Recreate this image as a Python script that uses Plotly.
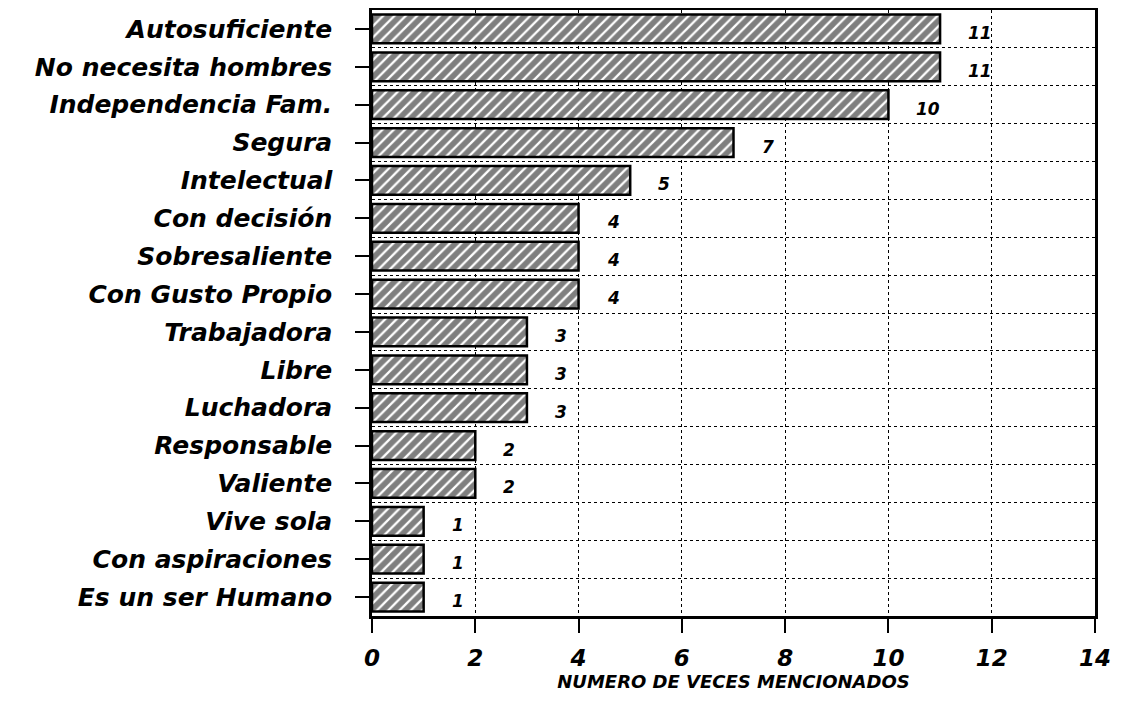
import plotly.graph_objects as go

categories = ["Autosuficiente", "No necesita hombres", "Independencia Fam.", "Segura",
              "Intelectual", "Con decisión", "Sobresaliente", "Con Gusto Propio",
              "Trabajadora", "Libre", "Luchadora", "Responsable", "Valiente",
              "Vive sola", "Con aspiraciones", "Es un ser Humano"]
values = [11, 11, 10, 7, 5, 4, 4, 4, 3, 3, 3, 2, 2, 1, 1, 1]
x_ticks = [0, 2, 4, 6, 8, 10, 12, 14]
x_title = "NUMERO DE VECES MENCIONADOS"

font_family = "DejaVu Sans, Liberation Sans, sans-serif"
pos = list(range(len(categories)))

fig = go.Figure()
fig.add_trace(go.Bar(
    x=values, y=pos, orientation="h", width=0.76,
    marker=dict(color="white",
                line=dict(color="black", width=2.5),
                pattern=dict(shape="/", fgcolor="black", bgcolor="white",
                             size=8, solidity=0.72)),
    hoverinfo="x+y", showlegend=False,
))

for p, v in zip(pos, values):
    fig.add_annotation(x=v, y=p, text=str(v), showarrow=False, xanchor="left",
                       xshift=26, yshift=-4,
                       font=dict(family=font_family, size=17, color="black",
                                 weight="bold", style="italic"))

# page body has an 8px margin: figure is sized/offset to compensate
fig.update_layout(
    width=1111, height=685,
    margin=dict(l=364, r=24, t=2, b=77),
    paper_bgcolor="white", plot_bgcolor="white",
    font=dict(family=font_family, color="black"),
    xaxis=dict(range=[0, 14], tickvals=x_ticks, ticktext=[str(t) for t in x_ticks],
               showgrid=True, gridcolor="black", griddash="dot", gridwidth=1,
               zeroline=False, showline=True, linecolor="black", linewidth=2.5,
               mirror=True, ticks="outside", ticklen=14, tickwidth=2,
               tickcolor="black", ticklabelstandoff=6,
               ticklabeloverflow="allow", automargin=False,
               tickfont=dict(size=23, family=font_family, weight="bold",
                             style="italic"),
               title=dict(text=x_title, standoff=2,
                          font=dict(size=18, family=font_family, weight="bold",
                                    style="italic"))),
    yaxis=dict(range=[15.5, -0.5], tickvals=pos, ticktext=categories,
               showgrid=False, zeroline=False, showline=True,
               linecolor="black", linewidth=2.5, mirror=True,
               ticks="outside", ticklen=14, tickwidth=2, tickcolor="black",
               ticklabelstandoff=18,
               tickfont=dict(size=25, family=font_family, weight="bold",
                             style="italic"),
               minor=dict(tickvals=[p + 0.5 for p in pos[:-1]], showgrid=True,
                          gridcolor="black", griddash="dot", gridwidth=1,
                          ticks="")),
)

fig.write_html("out.html")
